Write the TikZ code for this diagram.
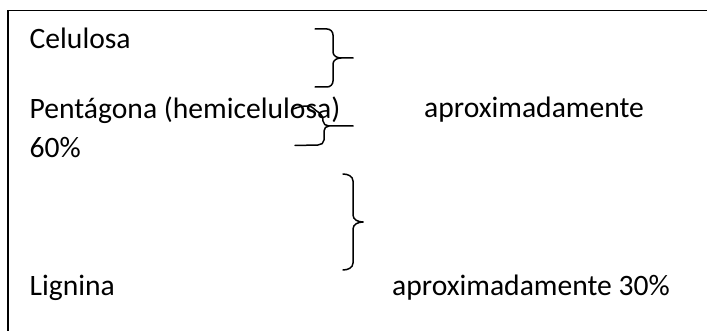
\documentclass[tikz,border=0pt]{standalone}
\usepackage{fontspec}
\setmainfont{Carlito}
\begin{document}
\begin{tikzpicture}[x=1pt,y=-1pt,
  txt/.style={anchor=base west,inner sep=0pt,font=\fontsize{29.6}{35}\selectfont,text=black},
  brace/.style={line width=1.5pt,line cap=round,line join=round}]
\useasboundingbox (0,0) rectangle (707,331);
\clip (0,0) rectangle (707,331);
% frame (cropped box)
\draw[line width=1.6pt] (8,340) -- (8,10.5) -- (720,10.5);
% texts
\node[txt] (cel) at (29.5,48.5) {Celulosa};
\node[txt] (pent) at (29.5,118.5) {Pentágona (hemicelulosa)};
\node[txt] (ap1) at (424,117.5) {aproximadamente};
\node[txt] (sixty) at (29.5,157.5) {60\%};
\node[txt] (lig) at (29.5,295) {Lignina};
\node[txt] (ap2) at (392,295) {aproximadamente 30\%};
% brace 1
\draw[brace] (315,29) -- (327,29) to[out=0,in=90] (333,35) -- (333,52)
  to[out=-90,in=180] (341,58) -- (353,58);
\draw[brace] (341,58) to[out=180,in=90] (333,64) -- (333,81)
  to[out=-90,in=0] (327,87) -- (315,87);
% brace 2 (distorted)
\draw[brace] (293,109) to[out=20,in=180] (308,106) to[out=0,in=150] (318,112)
  to[out=-30,in=90] (323,121) to[out=-90,in=180] (329,126) -- (353,126);
\draw[brace] (329,126) to[out=180,in=90] (324,131) -- (324,140)
  to[out=-90,in=0] (318,145) -- (295,145.5);
% brace 3
\draw[brace] (343,174) to[out=0,in=90] (353,181) -- (353,215)
  to[out=-90,in=180] (363,222);
\draw[brace] (363,222) to[out=180,in=90] (353,229) -- (353,263)
  to[out=-90,in=0] (343,270);
\end{tikzpicture}
\end{document}
